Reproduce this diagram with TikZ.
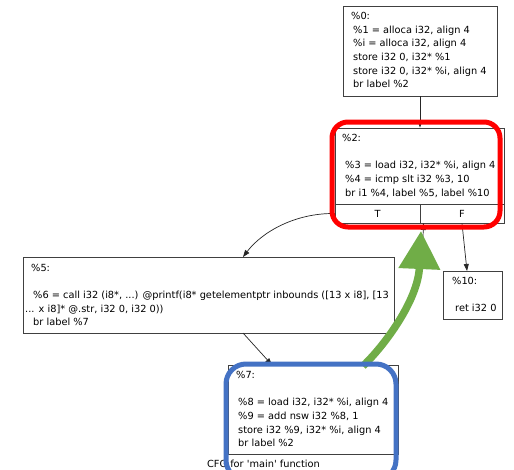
\documentclass[tikz,border=0pt]{standalone}
\usepackage{fontspec}
\setmainfont{DejaVu Sans}
\usetikzlibrary{arrows.meta}
\definecolor{hlred}{RGB}{255,0,0}
\definecolor{hlblue}{RGB}{68,114,196}
\definecolor{hlgreen}{RGB}{112,173,71}
\newcommand\cfgstrut{\rule{0pt}{8pt}}
\begin{document}
\begin{tikzpicture}[x=1pt,y=-1pt,
  box/.style={draw=black!75, line width=0.8pt, rectangle, inner sep=0pt},
  boxline/.style={draw=black!75, line width=0.8pt},
  code/.style={anchor=north west, inner sep=0pt, align=left,
    font=\fontsize{9.8pt}{13.6pt}\selectfont},
  port/.style={inner sep=0pt, font=\fontsize{9.8pt}{13.6pt}\selectfont},
  edge/.style={draw=black!85, line width=0.7pt, -{Triangle[length=7pt,width=5pt]}},
  focus/.style={line width=5pt, rounded corners=#1},
]
\fill[white] (0,0) rectangle (514,469);
\useasboundingbox (0,0) rectangle (514,469);

% basic blocks
\node[box, minimum width=154pt, minimum height=90pt] (n0) at (420,51) {};
\node[box, minimum width=169pt, minimum height=95pt] (n2) at (419.5,175.5) {};
\node[box, minimum width=371pt, minimum height=76pt] (n5) at (208.5,295) {};
\node[box, minimum width=59pt, minimum height=48pt] (n10) at (472.5,295) {};
\node[box, minimum width=170pt, minimum height=89pt] (n7) at (313,409.5) {};

% T/F ports of the branch block
\coordinate (sep) at (420,204);
\draw[boxline] (n2.west |- sep) -- (n2.east |- sep);
\draw[boxline] (sep) -- (sep |- n2.south);
\node[port] (pT) at (377.5,213.5) {T};
\node[port] (pF) at (462,213.5) {F};

% block contents
\node[code] (n0t) at (351,11.5) {\cfgstrut\%0:\\
\hspace*{2pt}\%1 = alloca i32, align 4\\
\hspace*{2pt}\%i = alloca i32, align 4\\
\hspace*{2pt}store i32 0, i32* \%1\\
\hspace*{2pt}store i32 0, i32* \%i, align 4\\
\hspace*{2pt}br label \%2};

\node[code] (n2t) at (342,133.5) {\cfgstrut\%2:\\[13.6pt]
\hspace*{3pt}\%3 = load i32, i32* \%i, align 4\\
\hspace*{3pt}\%4 = icmp slt i32 \%3, 10\\
\hspace*{3pt}br i1 \%4, label \%5, label \%10};

\node[code] (n5t) at (25,263) {\hspace*{6pt}\cfgstrut\%5:\\[13.6pt]
\hspace*{8pt}\%6 = call i32 (i8*, ...) @printf(i8* getelementptr inbounds ([13 x i8], [13\\
... x i8]* @.str, i32 0, i32 0))\\
\hspace*{8pt}br label \%7};

\node[code] (n10t) at (452,276.5) {\cfgstrut\%10:\\[13.6pt]
\hspace*{3pt}ret i32 0};

\node[code] (n7t) at (236,370.5) {\cfgstrut\%7:\\[13.6pt]
\hspace*{2pt}\%8 = load i32, i32* \%i, align 4\\
\hspace*{2pt}\%9 = add nsw i32 \%8, 1\\
\hspace*{2pt}store i32 \%9, i32* \%i, align 4\\
\hspace*{2pt}br label \%2};

\node[port, anchor=base] (cap) at (263.5,467.5) {CFG for \textquotesingle main\textquotesingle\ function};

% control-flow edges
\coordinate (in5) at (243,257);
\coordinate (out5) at (243,333);
\coordinate (in7) at (272,365);
\coordinate (in10) at (467,271);
\coordinate (out7) at (366,365);
\coordinate (in2b) at (423.5,223);
\draw[edge] (n0.south) -- (n0.south |- n2.north);
\draw[edge] (n2.west |- pT) .. controls (295,213) and (262,232) .. (in5);
\draw[edge] (pF |- n2.south) -- (in10);
\draw[edge] (out5) -- (in7);
\draw[edge] (out7) .. controls (388,345) and (421,300) .. (in2b);

% highlighted back edge and blocks
\draw[hlgreen, line width=7.5pt, -{Triangle[length=38pt,width=40pt]}]
  (363,366) .. controls (385,345) and (418,300) .. (421,231);
\draw[hlred, focus=16pt] (332,122) rectangle (500,227);
\draw[hlblue, focus=20pt] (226,364) rectangle (396,480);
\end{tikzpicture}
\end{document}
